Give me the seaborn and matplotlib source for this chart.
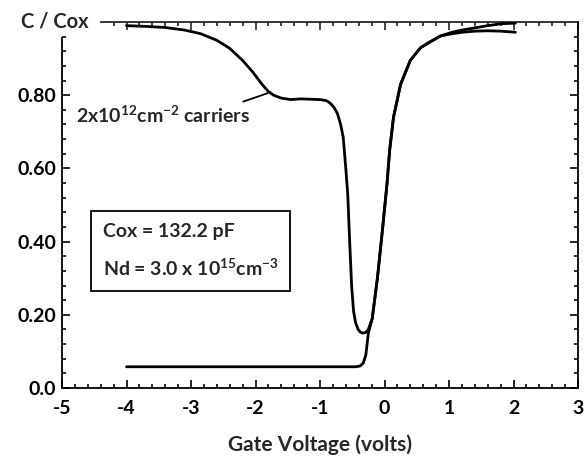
#!/usr/bin/env python3
"""C-V curve of a MOS capacitor, normalised to Cox"""
import numpy as np
import seaborn as sns
from pandas import DataFrame
from matplotlib import pyplot as plt
from matplotlib.ticker import MultipleLocator, FixedLocator

# upper sweep (low frequency / with carriers)
upper_v = [-4.0, -3.7, -3.4, -3.1, -2.85, -2.6, -2.4, -2.2, -2.05, -1.9, -1.8,
           -1.72, -1.6, -1.45, -1.3, -1.15, -1.0, -0.9, -0.84, -0.78, -0.73,
           -0.68, -0.64, -0.6, -0.57, -0.54, -0.51, -0.48, -0.45, -0.41, -0.37,
           -0.33, -0.29, -0.25, -0.19, -0.11, -0.03, 0.04, 0.08, 0.14, 0.25,
           0.40, 0.56, 0.70, 0.87, 1.05, 1.2, 1.4, 1.6, 1.8, 2.03]
upper_c = [0.99, 0.988, 0.985, 0.978, 0.968, 0.95, 0.928, 0.895, 0.865, 0.83, 0.81,
           0.80, 0.792, 0.788, 0.79, 0.789, 0.788, 0.785, 0.778, 0.766, 0.75,
           0.72, 0.685, 0.60, 0.53, 0.40, 0.28, 0.21, 0.18, 0.16, 0.152,
           0.15, 0.152, 0.16, 0.19, 0.30, 0.435, 0.56, 0.65, 0.74, 0.83,
           0.895, 0.93, 0.945, 0.962, 0.972, 0.978, 0.984, 0.99, 0.995, 0.997]

# lower sweep (deep depletion)
lower_v = [-4.0, -3.0, -2.0, -1.0, -0.45, -0.38, -0.33, -0.29, -0.27, -0.25,
           -0.19, -0.11, -0.03, 0.04, 0.08, 0.14, 0.25, 0.40, 0.56, 0.70, 0.87,
           1.05, 1.2, 1.4, 1.6, 1.8, 2.03]
lower_c = [0.058, 0.058, 0.058, 0.058, 0.058, 0.06, 0.068, 0.09, 0.12, 0.15,
           0.19, 0.30, 0.435, 0.56, 0.65, 0.74, 0.83, 0.895, 0.93, 0.945, 0.962,
           0.968, 0.972, 0.975, 0.976, 0.975, 0.972]

x_ticks = [-5, -4, -3, -2, -1, 0, 1, 2, 3]
y_ticks = [0.0, 0.2, 0.4, 0.6, 0.8]
y_labels = ["0.0", "0.20", "0.40", "0.60", "0.80"]

sns.set_theme(style="ticks")
plt.rcParams["font.family"] = ["Lato", "DejaVu Sans"]
plt.rcParams["font.weight"] = "bold"
plt.rcParams["mathtext.default"] = "regular"
plt.rcParams["axes.unicode_minus"] = False

fig = plt.figure(figsize=(5.88, 4.59), dpi=100)
ax = fig.add_axes([62 / 588, 1 - 388 / 459, 516 / 588, 366 / 459])

upper = DataFrame({"v": upper_v, "c": upper_c})
lower = DataFrame({"v": lower_v, "c": lower_c})
sns.lineplot(data=upper, x="v", y="c", sort=False, estimator=None,
             color="black", linewidth=2.0, ax=ax)
sns.lineplot(data=lower, x="v", y="c", sort=False, estimator=None,
             color="black", linewidth=2.0, ax=ax)

ax.set_xlim(-5, 3)
ax.set_ylim(0, 1.0)
ax.set_xticks(x_ticks)
ax.set_xticklabels([str(t) for t in x_ticks])
ax.set_yticks(y_ticks)
ax.set_yticklabels(y_labels)
ax.xaxis.set_minor_locator(MultipleLocator(0.2))
ax.yaxis.set_minor_locator(FixedLocator(np.arange(0.04, 0.97, 0.04)))
ax.tick_params(which="both", direction="in", top=False, right=True,
               labelsize=14, width=1.2, color="black", labelcolor="black")
ax.tick_params(which="major", length=6)
ax.tick_params(which="minor", length=3)
ax.tick_params(axis="x", pad=9)
ax.tick_params(axis="y", pad=4)
for lab in ax.get_xticklabels() + ax.get_yticklabels():
    lab.set_fontweight("bold")

for side in ["left", "right", "bottom", "top"]:
    ax.spines[side].set_linewidth(1.3)
    ax.spines[side].set_color("black")
ax.spines["left"].set_bounds(0, 0.955)
ax.spines["top"].set_visible(False)

# top frame starts right of the "C / Cox" label
top = ax.secondary_xaxis("top")
top.set_xticks(np.arange(-4, 3.1, 1))
top.xaxis.set_minor_locator(FixedLocator(np.arange(-4.2, 3.0, 0.2)))
top.tick_params(which="both", direction="in", labeltop=False, width=1.2)
top.tick_params(which="major", length=6)
top.tick_params(which="minor", length=3)
top.spines["top"].set_bounds(-4.4, 3)
top.spines["top"].set_linewidth(1.3)

ax.set_xlabel("Gate Voltage (volts)", fontsize=15, fontweight="bold", labelpad=12)
ax.set_ylabel("")
ax.text(-4.58, 1.0, "C / Cox", ha="right", va="center",
        fontsize=14.5, fontweight="bold", clip_on=False)

ax.text(-4.79, 0.745, "2x10$^{12}$cm$^{-2}$ carriers", ha="left", va="center",
        fontsize=14, fontweight="bold")
ax.annotate("", xy=(-1.77, 0.808), xytext=(-2.23, 0.78),
            arrowprops=dict(arrowstyle="-", color="black", lw=1.3))

ax.text(-4.37, 0.375, "Cox = 132.2 pF\nNd = 3.0 x 10$^{15}$cm$^{-3}$",
        ha="left", va="center", fontsize=14, fontweight="bold", linespacing=2.0,
        bbox=dict(boxstyle="square,pad=0.6", facecolor="white",
                  edgecolor="black", linewidth=1.3))

fig.savefig("out.png", dpi=100)
